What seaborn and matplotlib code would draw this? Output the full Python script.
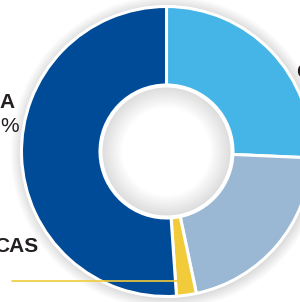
import matplotlib
matplotlib.use('Agg')
import matplotlib.pyplot as plt
import seaborn as sns
import numpy as np
from matplotlib.patches import Circle

# Datos del donut (porcentajes, sentido horario desde arriba)
regiones = ['C', 'gris', 'amarillo', 'A']
valores = [25.7, 21.0, 2.2, 51.1]
colores = ['#45B4E6', '#9AB8D4', '#F2CB3B', '#004B97']

sns.set_style('white')
plt.rcParams['font.family'] = ['Liberation Sans', 'DejaVu Sans']

fig = plt.figure(figsize=(3.0, 3.02), dpi=100)
ax = fig.add_axes([0, 0, 1, 1])

H = 302
cx, cy = 166.5, H - 151.5
R = 145
r_in = 66.5

# Sombra exterior suave
for k in range(12):
    ax.add_patch(Circle((cx + 1, cy - 1), R + 12 - k, color='black', alpha=0.012, lw=0, zorder=1))

ax.pie(valores, colors=sns.color_palette(colores), startangle=90, counterclock=False,
       radius=R, center=(cx, cy), frame=True,
       wedgeprops=dict(width=R - r_in, edgecolor='white', linewidth=2.2))
ax.set_xlim(0, 300)
ax.set_ylim(0, 302)
ax.set_aspect('equal')
ax.axis('off')

# Agujero central con sombreado interior
ax.add_patch(Circle((cx, cy), r_in, color='white', lw=0, zorder=5))
grises = np.linspace(0.87, 1.0, 24)
radios = np.linspace(r_in - 2.5, 44, 24)
for rr, g in zip(radios, grises):
    ax.add_patch(Circle((cx, cy), rr, color=(g, g, g), lw=0, zorder=6))

# Etiquetas (recortadas en el original)
ax.text(15, H - 102, 'A', ha='right', va='center', fontsize=15, fontweight='bold', color='#231F20')
ax.text(19, H - 127, '%', ha='right', va='center', fontsize=15, color='#231F20')
ax.text(38, H - 246, 'CAS', ha='right', va='center', fontsize=15, fontweight='bold', color='#231F20')
ax.text(296, H - 73, 'C', ha='left', va='center', fontsize=15, fontweight='bold', color='#231F20')

# Línea guía amarilla
ax.plot([12, 177], [H - 281, H - 281], color='#F2CB3B', lw=1.2, zorder=8)

fig.savefig('out.png', dpi=100)
